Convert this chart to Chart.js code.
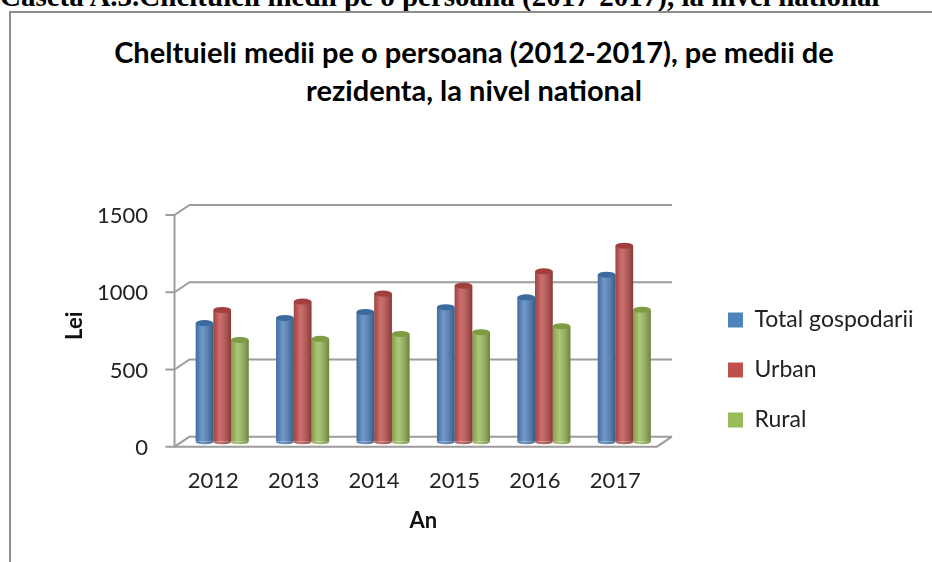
<!DOCTYPE html>
<html>
<head>
<meta charset="utf-8">
<script src="https://cdn.jsdelivr.net/npm/chart.js@4.4.1/dist/chart.umd.min.js"></script>
<style>
  body { margin: 0; background: #fff; width: 932px; height: 562px; overflow: hidden; position: relative; }
  #caseta { position: absolute; left: 0; top: -18px; font: bold 29px "Liberation Serif", serif; color: #000; white-space: nowrap; line-height: 29px; }
  #cadru { position: absolute; left: 9px; top: 11px; width: 1000px; height: 700px; border-left: 2px solid #8e8e8e; border-top: 2px solid #8e8e8e; }
  #titlu { position: absolute; left: 0; top: 33px; width: 948px; text-align: center; font: bold 29px Lato, sans-serif; line-height: 38px; color: #000; }
  #grafic { position: absolute; left: 12px; top: 100px; }
</style>
</head>
<body>
<div id="caseta">Caseta A.3.Cheltuieli medii pe o persoana (2017-2017), la nivel national</div>
<div id="cadru"></div>
<div id="titlu">Cheltuieli medii pe o persoana (2012-2017), pe medii de<br>rezidenta, la nivel national</div>
<canvas id="grafic" width="920" height="462"></canvas>
<script>
// date (lei / persoana)
const ani = ["2012", "2013", "2014", "2015", "2016", "2017"];
const totalGospodarii = [768, 801, 840, 871, 935, 1081];
const urban = [853, 907, 959, 1010, 1103, 1269];
const rural = [659, 666, 698, 709, 748, 855];
const valoriAxaY = [0, 500, 1000, 1500];

const culori = ["#4F81BD", "#C0504D", "#9BBB59"];
const culoriCapac = ["#3d6a9e", "#a23e3b", "#7f9c45"];

const canvas = document.getElementById("grafic");

// pereti 3D (fundal, podea) desenati din scala y
const pereti = {
  id: "pereti",
  beforeDatasetsDraw(chart) {
    const ctx = chart.ctx;
    const a = chart.chartArea;
    const y = chart.scales.y;
    const dx = 7.5, dy = 5;
    ctx.save();
    ctx.strokeStyle = "#9c9c9c";
    ctx.lineWidth = 2;
    // podeaua
    const y0 = y.getPixelForValue(0);
    ctx.beginPath();
    ctx.moveTo(a.left - dx, y0 + dy);
    ctx.lineTo(a.right - dx, y0 + dy);
    ctx.lineTo(a.right + dx, y0 - dy);
    ctx.stroke();
    valoriAxaY.forEach((v) => {
      const py = y.getPixelForValue(v);
      ctx.beginPath();
      ctx.moveTo(a.left - dx - 9, py + dy);
      ctx.lineTo(a.left - dx, py + dy);
      ctx.lineTo(a.left + dx, py - dy);
      ctx.lineTo(a.right + dx, py - dy);
      ctx.stroke();
    });
    // axa din fata
    ctx.beginPath();
    ctx.moveTo(a.left - dx, y.getPixelForValue(0) + dy);
    ctx.lineTo(a.left - dx, y.getPixelForValue(1500) + dy);
    ctx.stroke();
    ctx.restore();
  },
  afterDatasetsDraw(chart) {
    const ctx = chart.ctx;
    chart.data.datasets.forEach((ds, i) => {
      const meta = chart.getDatasetMeta(i);
      meta.data.forEach((bar) => {
        const w = bar.width;
        const x0 = bar.x - w / 2;
        ctx.save();
        // fundul rotunjit
        ctx.beginPath();
        ctx.ellipse(bar.x, bar.base, w / 2, 2.5, 0, 0, Math.PI);
        ctx.fillStyle = culori[i];
        ctx.fill();
        // umbrire cilindru
        const g = ctx.createLinearGradient(x0, 0, x0 + w, 0);
        g.addColorStop(0, "rgba(0,0,0,0.15)");
        g.addColorStop(0.35, "rgba(255,255,255,0.18)");
        g.addColorStop(1, "rgba(0,0,0,0.3)");
        ctx.fillStyle = g;
        ctx.fillRect(x0, bar.y, w, bar.base - bar.y);
        ctx.beginPath();
        ctx.ellipse(bar.x, bar.base, w / 2, 2.5, 0, 0, Math.PI);
        ctx.fill();
        // capacul
        ctx.beginPath();
        ctx.ellipse(bar.x, bar.y, w / 2, 3, 0, 0, Math.PI * 2);
        ctx.fillStyle = culoriCapac[i];
        ctx.fill();
        ctx.restore();
      });
    });
  },
  afterLayout(chart) {
    // legenda mai departe de grafic
    const lg = chart.legend;
    const w = lg.width;
    lg.left = 689;
    lg.right = 689 + w;
  }
};

const data = {
  labels: ani,
  datasets: [
    { label: "Total gospodarii", data: totalGospodarii, backgroundColor: culori[0] },
    { label: "Urban", data: urban, backgroundColor: culori[1] },
    { label: "Rural", data: rural, backgroundColor: culori[2] }
  ]
};

const config = {
  type: "bar",
  data: data,
  plugins: [pereti],
  options: {
    responsive: false,
    animation: false,
    categoryPercentage: 0.66,
    barPercentage: 1,
    layout: { padding: { top: 110, bottom: 32, left: 0, right: 50 } },
    plugins: {
      tooltip: { enabled: false },
      legend: {
        position: "right",
        labels: {
          boxWidth: 15,
          boxHeight: 15,
          padding: 27,
          color: "#222",
          font: { family: "Lato", size: 23 }
        }
      }
    },
    scales: {
      x: {
        grid: { display: false },
        border: { display: false },
        ticks: { color: "#222", font: { family: "Lato", size: 22 }, padding: 18, labelOffset: -9 },
        title: { display: true, text: "An", color: "#111", font: { family: "Lato", size: 22, weight: "bold" }, padding: { top: 0, bottom: -4 } },
        afterFit(s) { s.height = 88.3; }
      },
      y: {
        min: 0,
        max: 1500,
        afterBuildTicks(s) { s.ticks = valoriAxaY.map((v) => ({ value: v })); },
        grid: { display: false },
        border: { display: false },
        ticks: { color: "#222", font: { family: "Lato", size: 22 }, padding: 26, labelOffset: 6, callback: (v) => String(v) },
        title: { display: true, text: "Lei", color: "#111", font: { family: "Lato", size: 22, weight: "bold" }, padding: { top: 50, bottom: 0 } },
        afterFit(s) { s.width = 170; }
      }
    }
  }
};

const chart = new Chart(canvas, config);
</script>
</body>
</html>
